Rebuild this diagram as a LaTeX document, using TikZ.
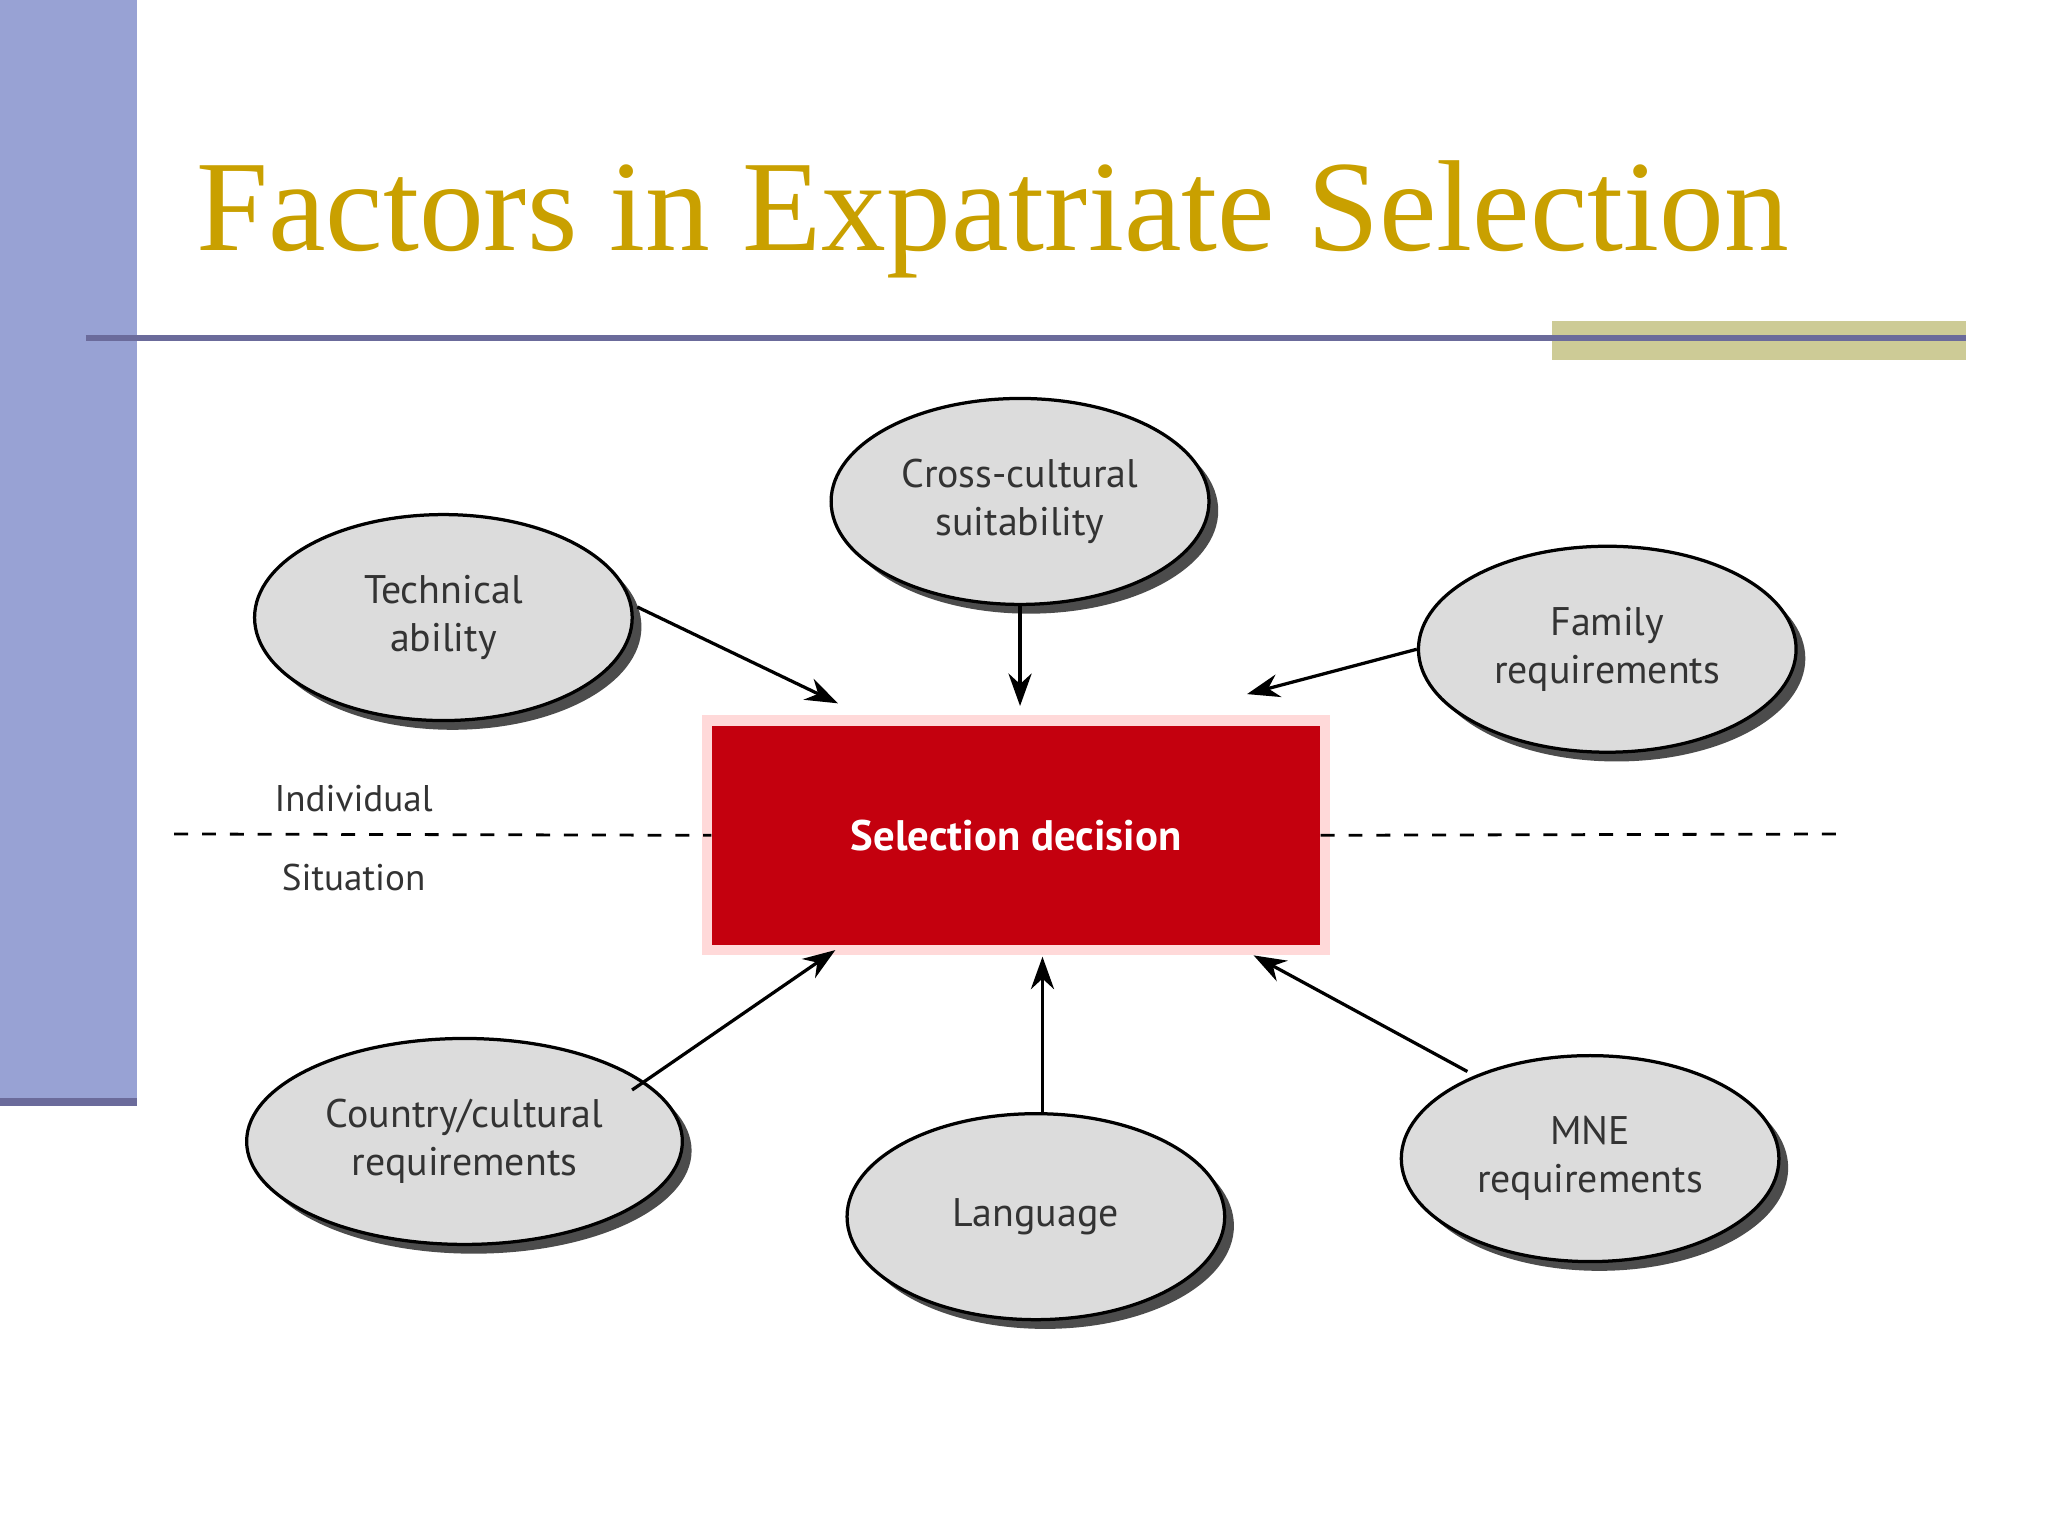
\documentclass[tikz,border=0pt]{standalone}
\usepackage{fontspec}
\setmainfont{Liberation Serif}
\newfontfamily\diag{PT Sans}
\usetikzlibrary{shapes.geometric,shadows,arrows.meta}
\definecolor{barblue}{HTML}{98A2D4}
\definecolor{lineblue}{HTML}{6B6B9B}
\definecolor{olive}{HTML}{CDCB96}
\definecolor{titlegold}{HTML}{C9A000}
\definecolor{boxred}{HTML}{C4000E}
\definecolor{ellfill}{HTML}{DCDCDC}
\begin{document}
\begin{tikzpicture}[x=0.01cm,y=-0.01cm,
  factor/.style={ellipse,draw=black,line width=0.7pt,fill=ellfill,minimum width=2.86cm,minimum height=1.56cm,
    align=center,font=\diag\fontsize{8.6pt}{10.4pt}\selectfont,text=black!80,
    drop shadow={shadow xshift=0.07cm,shadow yshift=-0.07cm,fill=black!70,opacity=1}},
  conn/.style={-{Stealth[length=7pt,width=5pt]},line width=0.7pt},
  sidelabel/.style={font=\diag\fontsize{8pt}{9pt}\selectfont,text=black!80}]
\useasboundingbox (0,0) rectangle (1552,1164);
\fill[white] (0,0) rectangle (1552,1164);
\fill[barblue] (0,0) rectangle (104,835);
\fill[lineblue] (0,832) rectangle (104,838);
\fill[olive] (1176,243) rectangle (1490,273);
\draw[lineblue,line width=1.2pt] (65,256) -- (1490,256);
\node[anchor=base west,inner sep=0,text=titlegold,font=\fontsize{27.9pt}{30pt}\selectfont] (title) at (148,190) {Factors in Expatriate Selection};
% box
\fill[red!15] (532,542) rectangle (1008,724);
\node[draw=none,fill=boxred,minimum width=4.6cm,minimum height=1.66cm,text=white,font=\diag\bfseries\fontsize{9.2pt}{11pt}\selectfont] (sel) at (770,633) {Selection decision};
\draw[dashed,line width=0.6pt] (132,632) -- (sel.west);
\draw[dashed,line width=0.6pt] (sel.east) -- (1397,632);
\node[sidelabel] (ind) at (268,605) {Individual};
\node[sidelabel] (sit) at (268,665) {Situation};
\node[factor] (cross) at (773,380) {Cross-cultural\\suitability};
\node[factor] (tech) at (336,468) {Technical\\ability};
\node[factor] (fam) at (1218,492) {Family\\requirements};
\node[factor] (ctry) at (352,865) {Country/cultural\\requirements};
\node[factor] (lang) at (785,922) {Language};
\node[factor] (mne) at (1205,878) {MNE\\requirements};
\coordinate (t1) at (635,533);
\coordinate (t2) at (773,535);
\coordinate (t3) at (945,526);
\coordinate (t4) at (633,720);
\coordinate (t5) at (790,725);
\coordinate (t6) at (950,724);
\draw[conn] (483,460) -- (t1);
\draw[conn] (cross.south) -- (t2);
\draw[conn] (fam.west) -- (t3);
\draw[conn] (479,826) -- (t4);
\draw[conn] (790,845) -- (t5);
\draw[conn] (1112,812) -- (t6);
\end{tikzpicture}
\end{document}
